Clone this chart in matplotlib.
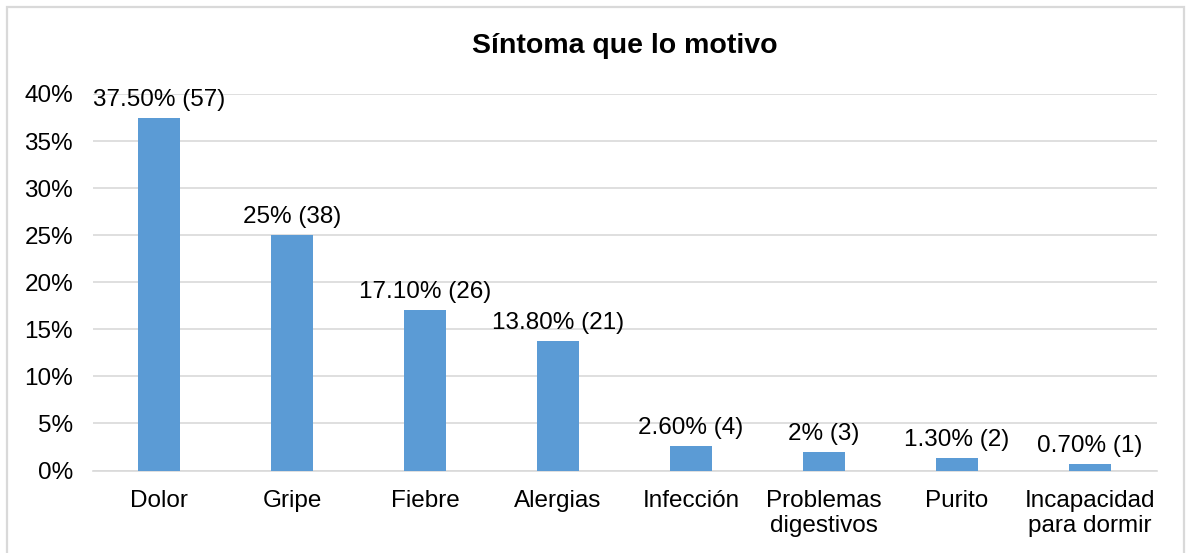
import matplotlib
matplotlib.use("Agg")
import matplotlib.pyplot as plt
from matplotlib.patches import Rectangle
from matplotlib.ticker import FuncFormatter, MultipleLocator

categories = ["Dolor", "Gripe", "Fiebre", "Alergias", "Infección",
              "Problemas\ndigestivos", "Purito", "Incapacidad\npara dormir"]
values = [37.5, 25.0, 17.1, 13.8, 2.6, 2.0, 1.3, 0.7]
labels = ["37.50% (57)", "25% (38)", "17.10% (26)", "13.80% (21)",
          "2.60% (4)", "2% (3)", "1.30% (2)", "0.70% (1)"]
title = "Síntoma que lo motivo"

plt.rcParams['font.family'] = ['Liberation Sans', 'DejaVu Sans']

W, H = 1187, 553
fig = plt.figure(figsize=(W / 100, H / 100), dpi=100)

# figure border
fig.patches.append(Rectangle((6.5 / W, -0.05), (1184 - 6.5) / W, 1 - 6.5 / H + 0.05,
                             transform=fig.transFigure, fill=False,
                             edgecolor="#D9D9D9", linewidth=1.6, zorder=0))

left, right = 92.5 / W, 1156.5 / W
bottom, top = 1 - 470.5 / H, 1 - 94 / H
ax = fig.add_axes([left, bottom, right - left, top - bottom])

FS = 17.5
x = list(range(len(categories)))
ax.bar(x, values, width=0.315, color="#5B9BD5", zorder=3)
ax.set_xlim(-0.5, len(categories) - 0.5)
ax.set_ylim(0, 40)
ax.yaxis.set_major_locator(MultipleLocator(5))
ax.yaxis.set_major_formatter(FuncFormatter(lambda v, p: f"{int(v)}%"))
ax.grid(axis="y", color="#D9D9D9", linewidth=1.2, zorder=0)
ax.set_axisbelow(True)
for s in ["top", "right", "left"]:
    ax.spines[s].set_visible(False)
ax.spines["bottom"].set_color("#D9D9D9")
ax.spines["bottom"].set_linewidth(1.2)
ax.tick_params(axis="both", length=0, labelsize=FS, colors="#000000")
ax.tick_params(axis="y", pad=14)
ax.tick_params(axis="x", pad=14)
ax.set_xticks(x)
ax.set_xticklabels(categories, linespacing=1.2)

for xi, v, lab in zip(x, values, labels):
    ax.annotate(lab, (xi, v), xytext=(0, 5), textcoords="offset points",
                ha="center", va="bottom", fontsize=FS, color="#000000")

fig.text((left + right) / 2, 1 - 46 / H, title, ha="center", va="center",
         fontsize=20.5, fontweight="bold", color="#000000")

fig.savefig("out.png", dpi=100)
